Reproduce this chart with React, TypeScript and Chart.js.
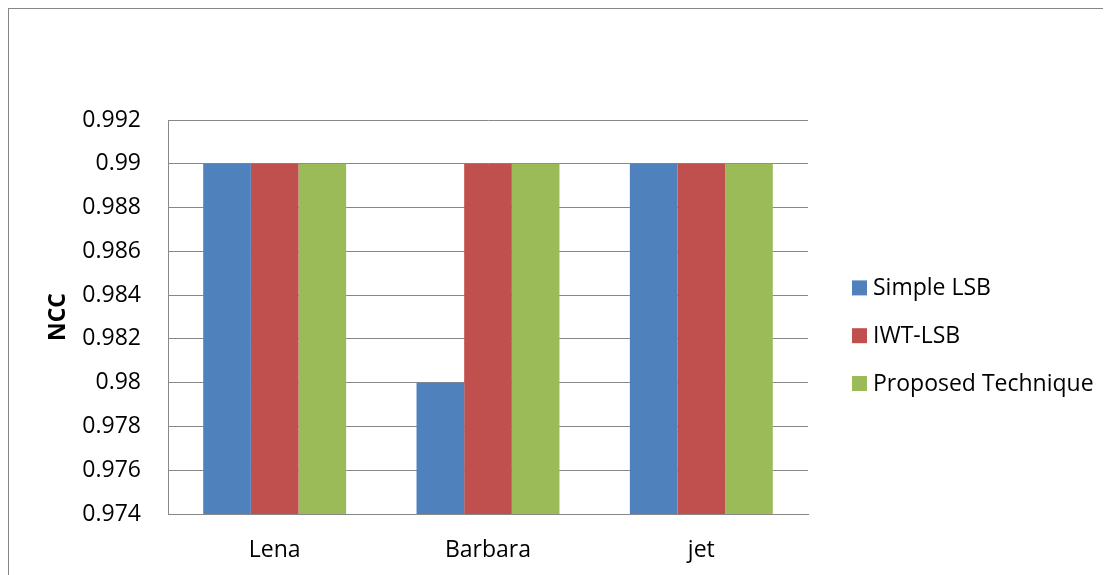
import React, { useEffect, useRef } from "react";
import { Chart, registerables } from "chart.js";

Chart.register(...registerables);

const categories = ["Lena", "Barbara", "jet"];
const seriesLabels = ["Simple LSB", "IWT-LSB", "Proposed Technique"];
const simpleLSB = [0.99, 0.98, 0.99];
const iwtLSB = [0.99, 0.99, 0.99];
const proposedTechnique = [0.99, 0.99, 0.99];
const seriesColors = ["#4F81BD", "#C0504D", "#9BBB59"];
const yTickValues = [0.974, 0.976, 0.978, 0.98, 0.982, 0.984, 0.986, 0.988, 0.99, 0.992];
const yTitle = "NCC";

const FONT = "'Open Sans', 'Noto Sans', sans-serif";
const GRID = "#888888";

const legendPlugin = {
  id: "customLegend",
  afterDraw(chart: any) {
    const ctx = chart.ctx;
    const ys = [279.4, 327.2, 375];
    ctx.save();
    ctx.font = `23px ${FONT}`;
    ctx.textBaseline = "middle";
    ctx.textAlign = "left";
    chart.data.datasets.forEach((ds: any, i: number) => {
      const y = ys[i];
      ctx.fillStyle = ds.backgroundColor;
      ctx.fillRect(843, y - 8, 15, 15);
      ctx.fillStyle = "#000";
      ctx.fillText(ds.label, 864, y);
    });
    ctx.restore();
  },
};

export default function App() {
  const ref = useRef<HTMLCanvasElement>(null);
  useEffect(() => {
    if (!ref.current) return;
    Chart.defaults.font.family = FONT;
    Chart.defaults.font.size = 23;
    Chart.defaults.color = "#000";
    const data = [simpleLSB, iwtLSB, proposedTechnique];
    const chart = new Chart(ref.current, {
      type: "bar",
      data: {
        labels: categories,
        datasets: seriesLabels.map((label, i) => ({
          label,
          data: data[i],
          backgroundColor: seriesColors[i],
          borderWidth: 0,
          categoryPercentage: 0.67,
          barPercentage: 1.0,
        })),
      },
      options: {
        animation: false,
        responsive: false,
        layout: { padding: { left: 0, top: 111, right: 303, bottom: 0 } },
        plugins: {
          legend: { display: false },
          tooltip: { enabled: false },
        },
        scales: {
          x: {
            grid: { display: false },
            border: { display: true, color: GRID, width: 1 },
            ticks: { padding: 15, font: { size: 23 }, color: "#000" },
            afterFit: (s: any) => {
              s.height = 61;
            },
          },
          y: {
            min: 0.974,
            max: 0.992,
            grid: { color: GRID, drawTicks: false, lineWidth: 1 },
            border: { display: true, color: GRID, width: 1 },
            afterBuildTicks: (s: any) => {
              s.ticks = yTickValues.map((v) => ({ value: v }));
            },
            ticks: {
              padding: 27,
              font: { size: 23 },
              color: "#000",
              callback: (v: any) => String(parseFloat(Number(v).toFixed(3))),
            },
            title: {
              display: true,
              text: yTitle,
              font: { size: 23, weight: "bold" },
              color: "#000",
              padding: { top: 36, bottom: 0 },
            },
            afterFit: (s: any) => {
              s.width = 159;
            },
          },
        },
      },
      plugins: [legendPlugin],
    });
    return () => chart.destroy();
  }, []);

  return (
    <div
      style={{
        width: 1103,
        height: 567,
        boxSizing: "border-box",
        borderLeft: "1px solid #868686",
        borderTop: "1px solid #868686",
        overflow: "hidden",
      }}
    >
      <canvas ref={ref} width={1102} height={566} style={{ display: "block" }} />
    </div>
  );
}
